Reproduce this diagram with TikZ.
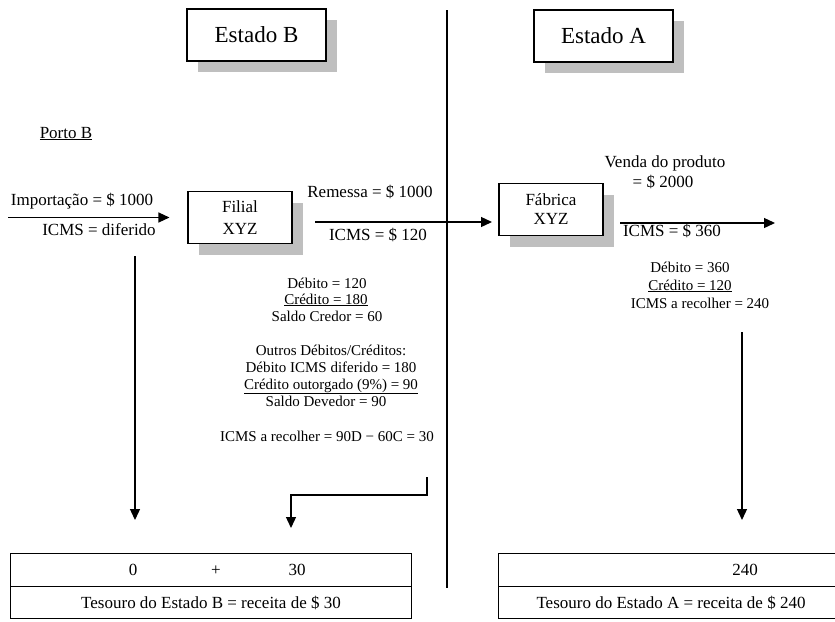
\documentclass[tikz,border=0pt]{standalone}
\usepackage{fontspec}
\setmainfont{Liberation Serif}
\usetikzlibrary{arrows.meta,positioning,shadows}

\begin{document}
\begin{tikzpicture}[x=1pt, y=-1pt,
  estado/.style={draw, line width=1.1pt, fill=white, minimum width=139pt,
                 minimum height=52pt, font=\fontsize{23}{27}\selectfont,
                 general shadow={fill=black!25, shadow xshift=11pt, shadow yshift=-11pt}},
  unit/.style={draw, line width=1.1pt, fill=white, minimum width=104pt,
               minimum height=52pt, align=center,
               general shadow={fill=black!25, shadow xshift=11pt, shadow yshift=-11pt}},
  cell/.style={draw, line width=0.9pt, inner sep=0pt},
  flow/.style={line width=1.3pt, -{Triangle[length=11pt,width=10pt]}},
  wire/.style={line width=1.1pt},
  lbl/.style={font=\fontsize{17}{20}\selectfont, inner sep=0pt, anchor=base},
  note/.style={font=\fontsize{15}{17}\selectfont, inner sep=0pt, anchor=base}
]
\useasboundingbox (0,0) rectangle (835,621);
% States and divider
\node[estado] (estB) at (256.5,35) {Estado B};
\node[estado] (estA) at (603.5,36) {Estado A};
\coordinate (divTop) at (447,10);
\coordinate (divBot) at (447,588);
\draw[wire] (divTop) -- (divBot);
% Units
\node[unit, font=\fontsize{17}{22}\selectfont] (filial) at (240,217.5) {Filial\\XYZ};
\node[unit, font=\fontsize{17}{19}\selectfont] (fabrica) at (551,209.5) {Fábrica\\XYZ};
% Estado B, left side
\node[lbl] (porto) at (66,138) {\underline{Porto B}};
\node[lbl] (impVal) at (82,205) {Importação = \$ 1000};
\node[lbl] (impIcms) at (99,235) {ICMS = diferido};
\coordinate (impStart) at (8,217.5);
\draw[flow] (impStart) -- ([xshift=-18pt]filial.west);
% Remessa
\node[lbl] (remVal) at (370,197) {Remessa = \$ 1000};
\node[lbl] (remIcms) at (378,240) {ICMS = \$ 120};
\coordinate (remStart) at (315,222);
\coordinate (remEnd) at (492,222);
\draw[flow] (remStart) -- (remEnd);
% Venda
\node[lbl] (venda) at (665,167) {Venda do produto};
\node[lbl] (vendaVal) at (663,187) {= \$ 2000};
\node[lbl] (vendaIcms) at (672,236) {ICMS = \$ 360};
\coordinate (vendaStart) at (620,223);
\coordinate (vendaEnd) at (775,223);
\draw[flow] (vendaStart) -- (vendaEnd);
% Apuracao Estado A
\node[note] (debA) at (690,272) {Débito = 360};
\node[note] (credA) at (690,290) {\underline{Crédito = 120}};
\node[note] (recA) at (700,308) {ICMS a recolher = 240};
% Apuracao Estado B
\node[note] (debB) at (327,288) {Débito = 120};
\node[note] (credB) at (326,304) {\underline{Crédito = 180}};
\node[note] (saldoB) at (327,321) {Saldo Credor = 60};
\node[note] (outros) at (331,355) {Outros Débitos/Créditos:};
\node[note] (debDif) at (331,372) {Débito ICMS diferido = 180};
\node[note] (credOut) at (331,389) {\underline{Crédito outorgado (9\%) = 90}};
\node[note] (saldoDev) at (326,406) {Saldo Devedor = 90};
\node[note] (recB) at (327,441) {ICMS a recolher = 90D − 60C = 30};
% Tesouros
\node[cell, minimum width=401pt, minimum height=33pt] (sumB) at (210.5,569.5) {};
\node[cell, minimum width=401pt, minimum height=32pt, below=0pt of sumB] (tesB) {};
\node[cell, minimum width=346pt, minimum height=33pt] (sumA) at (671,569.5) {};
\node[cell, minimum width=346pt, minimum height=32pt, below=0pt of sumA] (tesA) {};
\node[lbl] (zeroB) at (133,575) {0};
\node[lbl] (plusB) at (216,575) {+};
\node[lbl] (thirtyB) at (297,575) {30};
\node[lbl] (tesBtxt) at (211,608) {Tesouro do Estado B = receita de \$ 30};
\node[lbl] (twoA) at (745,575) {240};
\node[lbl] (tesAtxt) at (671,608) {Tesouro do Estado A = receita de \$ 240};
% Connections
\coordinate (leftTop) at (135,256);
\coordinate (leftEnd) at (135,520);
\draw[flow] (leftTop) -- (leftEnd);
\coordinate (rightTop) at (742,332);
\coordinate (rightEnd) at (742,520);
\draw[flow] (rightTop) -- (rightEnd);
\coordinate (brk) at (427,477);
\coordinate (turn) at (291,495);
\coordinate (brkEnd) at (291,528);
\draw[flow] (brk) |- (turn) -- (brkEnd);
\end{tikzpicture}
\end{document}
